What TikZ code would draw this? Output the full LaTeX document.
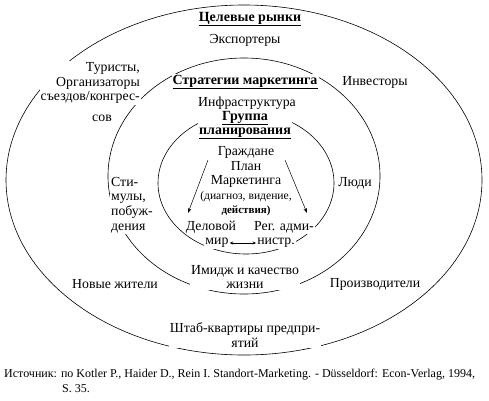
\documentclass[tikz,border=0pt]{standalone}
\usepackage{fontspec}
\setmainfont{Liberation Serif}[Ligatures=TeX]
\usetikzlibrary{arrows.meta}
\begin{document}
\begin{tikzpicture}[x=1pt,y=-1pt,
  ring/.style={draw,line width=0.6pt},
  lbl/.style={font=\fontsize{13.8}{14.6}\selectfont,inner sep=1pt,fill=white,align=center},
  ttl/.style={lbl,font=\fontsize{14}{14.2}\selectfont\bfseries},
  small/.style={font=\fontsize{11.6}{13}\selectfont,inner sep=1pt,fill=white,align=center},
  src/.style={font=\fontsize{12}{13}\selectfont,inner sep=0pt,anchor=west},
  arr/.style={-{Stealth[length=5pt,width=3.5pt]},line width=0.5pt}]
\useasboundingbox (0,0) rectangle (489,400);
\fill[white] (0,0) rectangle (489,400);
% rings
\draw[ring] (244,180) ellipse [x radius=238, y radius=175];
\draw[ring] (244,176) ellipse [x radius=136, y radius=118];
\draw[ring] (246,183) ellipse [x radius=88, y radius=71];
% outer ring texts
\node[ttl] (t1) at (250,19) {\underline{Целевые рынки}};
\node[lbl] (exp) at (245,40) {Экспортеры};
\node[lbl,align=right,anchor=east] (tur) at (141,83) {Туристы,\\Организаторы\\съездов/конгрес-};
\node[lbl] (sov) at (102,118) {сов};
\node[lbl] (inv) at (375,82) {Инвесторы};
\node[lbl] (nov) at (115,284) {Новые жители};
\node[lbl] (prz) at (375,284) {Производители};
\node[lbl] (sht) at (245,335) {Штаб-квартиры предпри-\\ятий};
% middle ring texts
\node[ttl] (t2) at (245,82) {\underline{Стратегии маркетинга}};
\node[lbl] (inf) at (247,103) {Инфраструктура};
\node[lbl,align=left,anchor=west] (stim) at (110,205) {Сти-\\мулы,\\побуж-\\дения};
\node[lbl] (lud) at (355,183) {Люди};
\node[lbl] (img) at (245,277) {Имидж и качество\\жизни};
% inner ring texts
\node[ttl,align=center] (t3) at (245,125) {\underline{Группа}\\\underline{планирования}};
\node[lbl,fill=none] (plan) at (246,167) {Граждане\\План\\Маркетинга};
\node[small,fill=none] (diag) at (246,197) {(диагноз, видение,};
\node[small,fill=none,font=\fontsize{11}{12}\selectfont\bfseries] (dei) at (246,211) {действия)};
\node[lbl] (del) at (211,227) {Деловой};
\node[lbl] (mir) at (217,243) {мир};
\node[lbl] (reg) at (284,227) {Рег. адми-};
\node[lbl] (nis) at (276,243) {нистр.};
% arrows
\coordinate (a1s) at (208,160);
\coordinate (a1e) at (188,213);
\coordinate (a2s) at (285,160);
\coordinate (a2e) at (307,213);
\draw[arr] (a1s) -- (a1e);
\draw[arr] (a2s) -- (a2e);
\draw[{Stealth[length=3.5pt,width=3pt]}-{Stealth[length=3.5pt,width=3pt]},line width=0.6pt] (mir.east) -- (nis.west);
% source
\node[src] (s1) at (4,375) {Источник: по Kotler P., Haider D., Rein I. Standort-Marketing. - Düsseldorf: Econ-Verlag, 1994,};
\node[src] (s2) at (62,389) {S. 35.};
\end{tikzpicture}
\end{document}
